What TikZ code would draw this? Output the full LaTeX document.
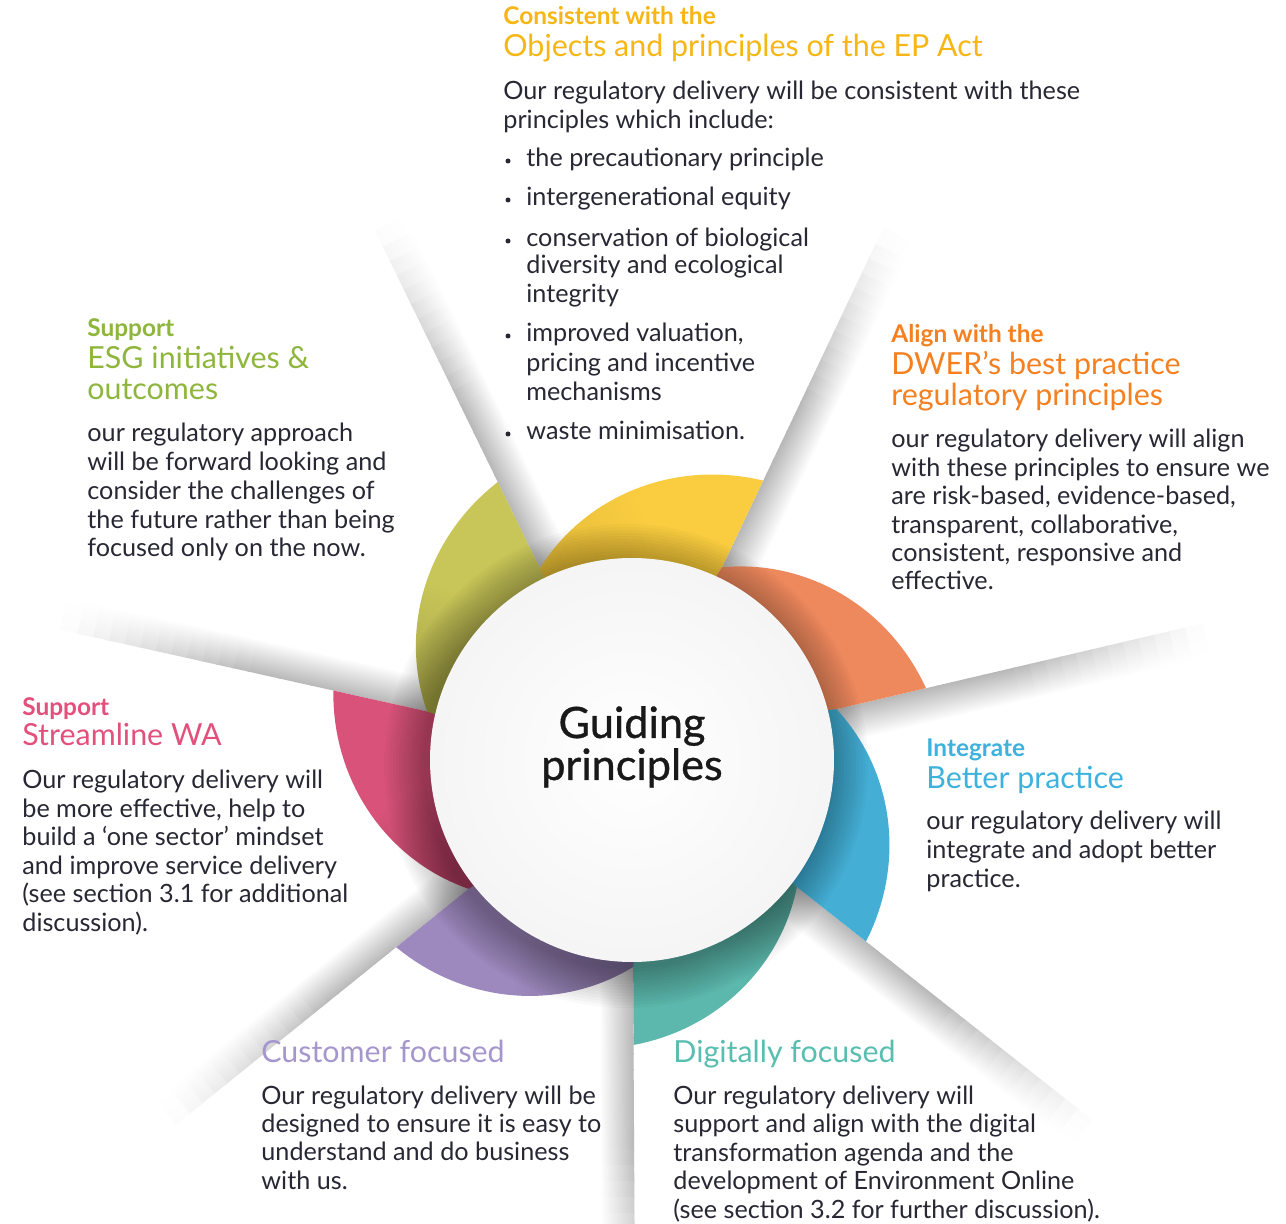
\documentclass[tikz,border=0pt]{standalone}
\usepackage{fontspec}
\setmainfont{Lato}
\newfontface\hubface[FakeBold=0.8]{Lato}

\definecolor{yellowpetal}{RGB}{250,205,64}
\definecolor{orangepetal}{RGB}{238,137,94}
\definecolor{bluepetal}{RGB}{68,174,212}
\definecolor{tealpetal}{RGB}{92,184,172}
\definecolor{purplepetal}{RGB}{158,137,190}
\definecolor{pinkpetal}{RGB}{217,82,122}
\definecolor{olivepetal}{RGB}{200,198,88}
\definecolor{yellowhead}{RGB}{246,182,20}
\definecolor{orangehead}{RGB}{245,128,32}
\definecolor{olivehead}{RGB}{143,182,60}
\definecolor{pinkhead}{RGB}{226,80,124}
\definecolor{bluehead}{RGB}{60,178,220}
\definecolor{purplehead}{RGB}{166,150,206}
\definecolor{tealhead}{RGB}{88,190,176}
\definecolor{bodytext}{RGB}{40,40,52}

\tikzset{
  kicker/.style={anchor=base west,inner sep=0pt,font=\fontsize{12.2}{14}\selectfont\bfseries},
  headline/.style={anchor=base west,inner sep=0pt,font=\fontsize{15.2}{18}\selectfont},
  bodyline/.style={anchor=base west,inner sep=0pt,text=bodytext,font=\fontsize{12.6}{15}\selectfont},
  hubtext/.style={anchor=base,inner sep=0pt,text=black!90,font=\hubface\fontsize{21.6}{26}\selectfont}
}

\begin{document}
\begin{tikzpicture}[x=0.5pt,y=-0.5pt]
\fill[white] (0,0) rectangle (1286,1224);
\useasboundingbox (0,0) rectangle (1286,1224);
\coordinate (P) at (632,757);

% folded paper shadows behind the petals
\foreach \k in {0,...,6}{%
  \pgfmathsetmacro\rot{64.6-51.43*\k}
  \begin{scope}[transform canvas={shift={(P)},rotate=\rot}]
  \foreach \j in {0,...,23}{%
    \pgfmathsetmacro\ra{200+16*\j}
    \pgfmathsetmacro\rb{\ra+18}
    \pgfmathsetmacro\fd{min(1,(1-(\j+0.5)/24)/0.5)}
    \pgfmathsetmacro\ta{28*\fd}
    \pgfmathsetmacro\tm{6*\fd}
    \shade[top color=black!\ta,middle color=black!\tm,bottom color=white] (\ra,0) rectangle (\rb,34);
  }
  \end{scope}
}

% petals
\begin{scope}[shift={(P)}]
\foreach \k/\col/\dk/\R in {0/yellowpetal/93/306,1/orangepetal/100/302,2/bluepetal/100/298,3/tealpetal/85/288,4/purplepetal/80/303,5/pinkpetal/80/306,6/olivepetal/84/306}{%
  \pgfmathsetmacro\cut{-64.6+51.43*\k}
  \pgfmathsetmacro\thin{\cut-51.43}
  \pgfmathsetmacro\shang{45-\cut}
  \shade[top color=\col!\dk!black,bottom color=\col,middle color=\col,shading angle=\shang]
    ({\thin-1}:185) -- plot[domain=0:1,samples=36,variable=\t]
    ({\thin+51.43*\t}:{210+(\R-210)*(0.6*\t+0.4*sin(90*\t))}) -- (\cut:185) -- cycle;
}
\end{scope}

% hub
\foreach \s in {1,...,14}
  \fill[black,opacity=0.022] (626,766) circle ({200+3*\s});
\node[circle,minimum size=202pt,inner sep=0pt,inner color=white,outer color=black!4] (hub) at (632,760) {};
\node[hubtext] (hubtop) at (632,738) {Guiding};
\node[hubtext] (hubbot) at (632,780) {principles};

% EP Act
\node[kicker,text=yellowhead] (epkick) at (503,25) {Consistent with the};
\node[headline,text=yellowhead] (ephead) at (503,57) {Objects and principles of the EP Act};
\foreach \ln [count=\i from 0] in {Our regulatory delivery will be consistent with these,principles which include:}
  \node[bodyline] (epbody\i) at (503,{100+29*\i}) {\ln};
\foreach \y/\ln [count=\i] in {167/the precautionary principle,206/intergenerational equity,
    247/conservation of biological,274/diversity and ecological,303/integrity,
    342/{improved valuation,},372/pricing and incentive,401/mechanisms,440/waste minimisation.}
  \node[bodyline] (epitem\i) at (526,\y) {\ln};
\foreach \y in {167,206,247,342,440}
  \fill[bodytext] (508,\y-6) circle (2.5);

% ESG
\node[kicker,text=olivehead] (esgkick) at (87,337) {Support};
\node[headline,text=olivehead] (esghead1) at (87,369) {ESG initiatives \&};
\node[headline,text=olivehead] (esghead2) at (87,400) {outcomes};
\foreach \ln [count=\i from 0] in {our regulatory approach,will be forward looking and,consider the challenges of,the future rather than being,focused only on the now.}
  \node[bodyline] (esgbody\i) at (87,{442+28.7*\i}) {\ln};

% DWER
\node[kicker,text=orangehead] (dwkick) at (891,343) {Align with the};
\node[headline,text=orangehead] (dwhead1) at (891,375) {DWER’s best practice};
\node[headline,text=orangehead] (dwhead2) at (891,406) {regulatory principles};
\foreach \ln [count=\i from 0] in {our regulatory delivery will align,with these principles to ensure we,{are risk-based, evidence-based,},{transparent, collaborative,},{consistent, responsive and},effective.}
  \node[bodyline] (dwbody\i) at (891,{448+28.4*\i}) {\ln};

% Streamline WA
\node[kicker,text=pinkhead] (swkick) at (22,716) {Support};
\node[headline,text=pinkhead] (swhead) at (22,746) {Streamline WA};
\foreach \ln [count=\i from 0] in {Our regulatory delivery will,{be more effective, help to},build a ‘one sector’ mindset,and improve service delivery,{(see section 3.1 for additional},{discussion).}}
  \node[bodyline] (swbody\i) at (22,{789+28.4*\i}) {\ln};

% Better practice
\node[kicker,text=bluehead] (bpkick) at (926,757) {Integrate};
\node[headline,text=bluehead] (bphead) at (926,789) {Better practice};
\foreach \ln [count=\i from 0] in {our regulatory delivery will,integrate and adopt better,practice.}
  \node[bodyline] (bpbody\i) at (926,{830+28.5*\i}) {\ln};

% Customer focused
\node[headline,text=purplehead] (cfhead) at (261,1062) {Customer focused};
\foreach \ln [count=\i from 0] in {Our regulatory delivery will be,designed to ensure it is easy to,understand and do business,with us.}
  \node[bodyline] (cfbody\i) at (261,{1104+28.4*\i}) {\ln};

% Digitally focused
\node[headline,text=tealhead] (dfhead) at (673,1062) {Digitally focused};
\foreach \ln [count=\i from 0] in {Our regulatory delivery will,support and align with the digital,transformation agenda and the,development of Environment Online,{(see section 3.2 for further discussion).}}
  \node[bodyline] (dfbody\i) at (673,{1104+28.5*\i}) {\ln};
\end{tikzpicture}
\end{document}
